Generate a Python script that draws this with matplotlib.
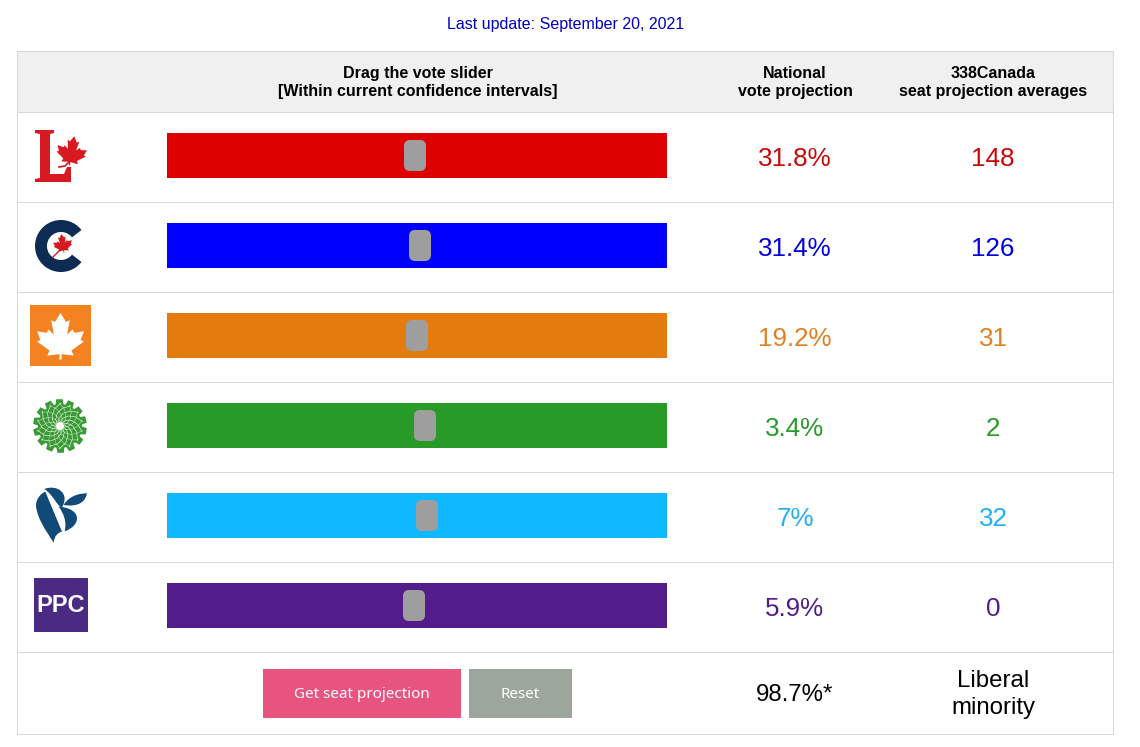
import numpy as np
import matplotlib
matplotlib.use("Agg")
import matplotlib.pyplot as plt
from matplotlib.patches import Rectangle, Polygon, FancyBboxPatch, Wedge, Circle, PathPatch
from matplotlib.path import Path

parties = ["Liberal", "Conservative", "NDP", "Green", "Bloc", "PPC"]
vote_labels = ["31.8%", "31.4%", "19.2%", "3.4%", "7%", "5.9%"]
seat_labels = ["148", "126", "31", "2", "32", "0"]
slider_values = [0.496, 0.506, 0.500, 0.516, 0.520, 0.494]
colors = ["#dd0000", "#0000ff", "#e37b0e", "#289a28", "#10b9ff", "#521c8a"]
text_colors = ["#c80808", "#0000e0", "#e08020", "#289a28", "#20b0f0", "#521c8a"]

plt.rcParams["font.family"] = ["Liberation Sans", "DejaVu Sans"]

fig = plt.figure(figsize=(11.4, 7.47), dpi=100)
ax = fig.add_axes([0, 0, 1, 1])
ax.set_xlim(0, 1140)
ax.set_ylim(747, 0)
ax.axis("off")

line_col = "#d9d9d9"
left, right = 16.5, 1112.5
px = 0.72  # px to pt at dpi 100

# ---- table ---- #
ax.add_patch(Rectangle((left, 51), right - left, 61, fc="#f0f0f0", ec="none"))
for y in [50.5, 111.5, 201.5, 291.5, 381.5, 471.5, 561.5, 651.5, 733.5]:
    ax.plot([left, right], [y, y], color=line_col, lw=0.75)
ax.plot([left, left], [50.5, 733.5], color=line_col, lw=0.75)
ax.plot([right, right], [50.5, 733.5], color=line_col, lw=0.75)

ax.text(566, 25, "Last update: September 20, 2021", color="#0000c0",
        fontsize=16 * px, ha="center", va="center")
ax.text(418, 82.5, "Drag the vote slider\n[Within current confidence intervals]",
        fontsize=16 * px, fontweight="bold", ha="center", va="center", linespacing=1.3)
ax.text(795, 82.5, "National\nvote projection",
        fontsize=16 * px, fontweight="bold", ha="center", va="center", linespacing=1.3)
ax.text(993, 82.5, "338Canada\nseat projection averages",
        fontsize=16 * px, fontweight="bold", ha="center", va="center", linespacing=1.3)

# ---- sliders ---- #
row_y = 155.5 + 90 * np.arange(len(parties))
track_left, track_w = 167, 500
ax.barh(row_y, track_w, left=track_left, height=45, color=colors)
for i, v in enumerate(slider_values):
    cx = track_left + v * track_w
    ax.add_patch(FancyBboxPatch((cx - 11, row_y[i] - 15.5), 22, 31,
                                boxstyle="round,pad=0,rounding_size=6", fc="#9e9e9e", ec="none"))
    ax.text(795, row_y[i] + 3.5, vote_labels[i], color=text_colors[i],
            fontsize=26 * px, ha="center", va="center")
    ax.text(993, row_y[i] + 3.5, seat_labels[i], color=text_colors[i],
            fontsize=26 * px, ha="center", va="center")

# ---- bottom row ---- #
ax.add_patch(Rectangle((263, 669), 198, 49, fc="#e75480", ec="none"))
ax.add_patch(Rectangle((469, 669), 103, 49, fc="#9ca69c", ec="none"))
ax.text(361.5, 694.5, "Get seat projection", color="white", fontsize=15.2 * px,
        family=["Noto Sans", "DejaVu Sans"], ha="center", va="center")
ax.text(520.5, 694.5, "Reset", color="white", fontsize=15.2 * px,
        family=["Noto Sans", "DejaVu Sans"], ha="center", va="center")
ax.text(795, 695, "98.7%*", color="black", fontsize=24 * px, ha="center", va="center")
ax.text(993, 694.5, "Liberal\nminority", color="black", fontsize=24 * px,
        ha="center", va="center", linespacing=1.35)

# ---- logos ---- #
half_leaf = np.array([(0, 1.0), (0.16, 0.70), (0.27, 0.76), (0.19, 0.28), (0.35, 0.45), (0.40, 0.34),
                      (0.68, 0.39), (0.58, 0.10), (0.68, 0.05), (0.32, -0.25), (0.38, -0.42),
                      (0.03, -0.37), (0.03, -0.55)]) * [1.15, 1]


def leaf(cx, cy, s, color, rot=0.0):
    pts = np.vstack([half_leaf, (half_leaf * [-1, 1])[::-1]])
    a = np.radians(rot)
    R = np.array([[np.cos(a), -np.sin(a)], [np.sin(a), np.cos(a)]])
    pts = pts @ R.T * s
    ax.add_patch(Polygon(np.c_[cx + pts[:, 0], cy - pts[:, 1]], fc=color, ec="none", zorder=4))


def zoom_path(x0, y0, verts, codes, color):
    # verts come from the 3x crops
    v = np.array(verts, dtype=float) / 3 + [x0, y0]
    ax.add_patch(PathPatch(Path(v, codes), fc=color, ec="none", zorder=4))


# Liberal
lib = "#d71920"
ax.add_patch(Polygon([(35, 130), (54, 130), (54, 133), (50, 134), (50, 174), (64, 174), (67, 167), (71, 167),
                      (71, 182), (35, 182), (35, 179), (40, 178), (40, 134), (35, 133)],
                     fc=lib, ec="none"))
leaf(71, 155, 19, lib, rot=-10)
ax.plot([59, 65, 70], [167, 166, 161], color=lib, lw=1.2)

# Conservative
ax.add_patch(Wedge((61, 246), 26, 38, 322, width=12, fc="#0d2c54", ec="none"))
leaf(63, 246, 12, "#d71920", rot=8)
ax.plot([53, 60], [257, 250], color="#d71920", lw=1)

# NDP
ax.add_patch(Rectangle((30, 305), 61, 61, fc="#f58220", ec="none"))
leaf(60.5, 343, 30, "white")

# Green
grn = "#3a9b35"
n_pet = 14
ax.add_patch(Circle((60, 426), 22, fc=grn, ec="none"))
for k in range(n_pet):
    t0 = 2 * np.pi * k / n_pet
    r = np.array([20, 27, 27, 20])
    th = t0 + np.array([0.0, 0.08, 0.32, 0.42])
    ax.add_patch(Polygon(np.c_[60 + r * np.cos(th), 426 + r * np.sin(th)], fc=grn, ec="none"))
    # white spirals over the disc
    rr = np.array([4, 8, 13, 18, 23])
    ax.plot(60 + rr * np.cos(t0 + rr * 0.07), 426 + rr * np.sin(t0 + rr * 0.07), color="white", lw=0.4)
    ax.plot(60 + rr * np.cos(t0 - rr * 0.05), 426 + rr * np.sin(t0 - rr * 0.05), color="white", lw=0.25)
ax.add_patch(Circle((60, 426), 4, fc="white", ec="none", zorder=4))

# Bloc
bq = "#0f4a78"
M, C = Path.MOVETO, Path.CURVE4
L = Path.LINETO
zoom_path(17, 390, [(110, 458), (85, 420), (58, 380), (57, 345), (58, 325), (72, 310), (85, 305),
                    (135, 425), (122, 428), (112, 438), (110, 458)],
          [M, C, C, C, C, C, C, L, C, C, C], bq)
zoom_path(17, 390, [(82, 297), (120, 282), (160, 310), (135, 352), (122, 352), (110, 315), (82, 297)],
          [M, C, C, C, C, C, C], bq)
zoom_path(17, 390, [(125, 350), (195, 355), (195, 405), (143, 424), (150, 395), (140, 370), (125, 350)],
          [M, C, C, C, C, C, C], bq)
zoom_path(17, 390, [(210, 310), (170, 310), (148, 330), (140, 345), (185, 352), (205, 335), (210, 310)],
          [M, C, C, C, C, C, C], bq)

# PPC
ax.add_patch(Rectangle((34, 578), 54, 54, fc="#4a2a82", ec="none"))
ax.text(61, 606, "PPC", color="white", fontsize=17, fontweight="bold", ha="center", va="center", zorder=4)
leaf(45.5, 602, 4, "#4a2a82")

fig.savefig("out.png", dpi=100)
